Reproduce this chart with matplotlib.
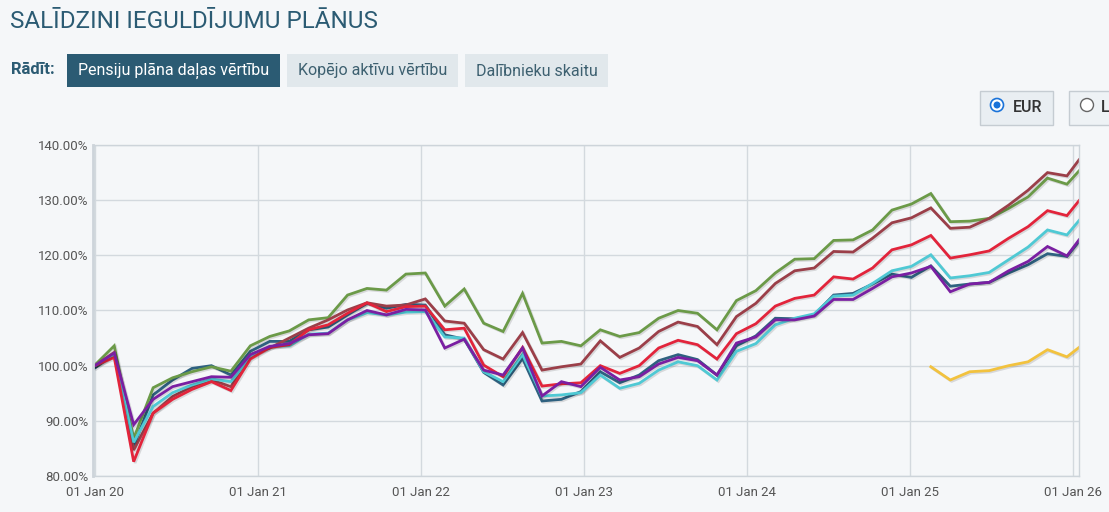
import numpy as np
import matplotlib
matplotlib.use("Agg")
import matplotlib.pyplot as plt
import matplotlib.dates as mdates
import matplotlib.patheffects as pe
from matplotlib.patches import Ellipse
import pandas as pd

# datumi (aptuveni ik pēc ~6 nedēļām) + pēdējais punkts
dates = pd.date_range('2020-01-01', '2025-12-18', periods=51).append(pd.DatetimeIndex(['2026-01-14']))

green = [100.1, 103.6, 86.8, 96.0, 97.8, 98.9, 99.8, 99.0, 103.6, 105.3, 106.3, 108.3, 108.7, 112.8, 114.0, 113.7,
         116.6, 116.8, 110.8, 113.9, 107.7, 106.2, 113.1, 104.1, 104.4, 103.6, 106.5, 105.3, 106.0, 108.6, 110.0, 109.5,
         106.5, 111.8, 113.6, 116.8, 119.3, 119.4, 122.7, 122.8, 124.6, 128.2, 129.3, 131.2, 126.1, 126.2, 126.7, 128.5,
         130.6, 134.0, 132.9, 135.3]
brown = [100.0, 102.4, 84.7, 91.4, 94.4, 96.2, 97.4, 96.2, 102.0, 103.2, 105.0, 106.8, 108.3, 110.1, 111.4, 110.8,
         111.0, 112.1, 108.1, 107.7, 102.9, 101.2, 106.0, 99.2, 99.8, 100.3, 104.5, 101.5, 103.2, 106.2, 107.9, 107.1,
         103.8, 108.9, 111.3, 114.9, 117.2, 117.7, 120.7, 120.6, 123.1, 125.9, 126.8, 128.6, 124.9, 125.1, 126.7, 129.1,
         131.8, 135.0, 134.4, 137.3]
red = [100.0, 101.5, 82.6, 91.4, 93.9, 95.7, 97.1, 95.5, 101.2, 103.3, 103.8, 106.5, 107.4, 109.5, 111.4, 109.8,
       110.7, 110.8, 106.5, 106.8, 100.1, 98.0, 103.3, 96.3, 96.7, 96.9, 100.0, 98.6, 100.0, 103.2, 104.6, 103.8,
       101.2, 105.8, 107.6, 110.8, 112.2, 112.8, 116.1, 115.7, 117.7, 121.0, 121.9, 123.6, 119.5, 120.1, 120.8, 123.1,
       125.2, 128.1, 127.2, 129.9]
cyan = [100.0, 102.0, 86.1, 92.6, 95.1, 96.5, 97.6, 97.1, 101.5, 103.5, 103.6, 105.7, 105.9, 108.3, 109.6, 109.2,
        109.7, 109.8, 105.2, 105.0, 98.9, 97.1, 102.0, 94.5, 94.7, 95.1, 98.3, 95.9, 96.8, 99.2, 100.7, 100.0,
        97.4, 102.6, 104.0, 107.4, 108.6, 109.4, 112.6, 112.8, 114.9, 117.2, 118.0, 120.1, 115.9, 116.3, 116.9, 119.2,
        121.5, 124.6, 123.7, 126.3]
teal = [99.6, 102.1, 85.3, 94.7, 97.4, 99.5, 100.0, 98.3, 102.6, 104.4, 104.4, 106.5, 107.0, 109.2, 111.3, 110.4,
        111.1, 111.0, 105.6, 104.8, 98.8, 96.5, 101.3, 93.6, 93.9, 95.3, 98.9, 96.9, 98.3, 100.9, 102.0, 101.1,
        98.3, 103.6, 105.4, 108.6, 108.5, 109.2, 112.8, 113.1, 114.8, 116.6, 116.0, 118.1, 114.4, 114.8, 115.1, 116.8,
        118.3, 120.3, 119.8, 122.5]
purple = [100.0, 102.3, 89.3, 93.9, 96.2, 97.1, 98.0, 97.9, 102.0, 103.5, 104.0, 105.6, 105.8, 108.3, 110.0, 109.2,
          110.2, 110.1, 103.2, 104.8, 99.2, 98.3, 103.2, 94.5, 97.1, 96.2, 99.7, 97.4, 98.0, 100.3, 101.5, 100.9,
          98.3, 104.1, 105.2, 108.3, 108.3, 109.0, 112.0, 112.0, 114.0, 116.1, 116.8, 118.0, 113.4, 114.8, 115.1, 117.2,
          118.9, 121.6, 119.9, 122.8]
yellow_start = 43
yellow = [99.8, 97.4, 98.9, 99.1, 100.0, 100.7, 102.9, 101.6, 103.3]

series = [
    (teal, '#2e6180'),
    (green, '#6b9a48'),
    (brown, '#9b3f49'),
    (cyan, '#4fc9d4'),
    (red, '#e2243b'),
    (purple, '#7a1fa2'),
]

bg = '#f5f7f9'
dark = '#2b5b73'
W, H = 1109, 512

fig = plt.figure(figsize=(11.09, 5.12), dpi=100, facecolor=bg)
plt.rcParams['font.family'] = ['Roboto', 'DejaVu Sans']

# virsraksts
fig.text(10 / W, 1 - 22 / H, 'SALĪDZINI IEGULDĪJUMU PLĀNUS', fontsize=17.5, color=dark,
         va='center', ha='left', family=['Liberation Sans Narrow', 'Roboto', 'DejaVu Sans'])
fig.text(11 / W, 1 - 70 / H, 'Rādīt:', fontsize=12, color=dark, fontweight='bold',
         va='center', ha='left')

# pogas
buttons = [('Pensiju plāna daļas vērtību', 67, 280, dark, 'white'),
           ('Kopējo aktīvu vērtību', 287, 458, '#e1e8ec', '#3d6070'),
           ('Dalībnieku skaitu', 465, 608, '#e1e8ec', '#3d6070')]
for label, x0, x1, fc, tc in buttons:
    fig.patches.append(plt.Rectangle((x0 / W, 1 - 87 / H), (x1 - x0) / W, 33 / H,
                                     transform=fig.transFigure, facecolor=fc, edgecolor='none'))
    fig.text((x0 + x1) / 2 / W, 1 - 71 / H, label, fontsize=11.5, color=tc, ha='center', va='center')

# valūtas izvēle
fig.patches.append(plt.Rectangle((980 / W, 1 - 125 / H), 73 / W, 34 / H, transform=fig.transFigure,
                                 facecolor='#e9eef2', edgecolor='#c5ccd2', linewidth=1))
fig.patches.append(plt.Rectangle((1069 / W, 1 - 125 / H), 60 / W, 34 / H, transform=fig.transFigure,
                                 facecolor='#eef2f5', edgecolor='#c5ccd2', linewidth=1))
fig.patches.append(Ellipse((997 / W, 1 - 105 / H), 13 / W, 13 / H, transform=fig.transFigure,
                           facecolor='white', edgecolor='#1a73d9', linewidth=1.2))
fig.patches.append(Ellipse((997 / W, 1 - 105 / H), 7 / W, 7 / H, transform=fig.transFigure,
                           facecolor='#1a73d9', edgecolor='none'))
fig.patches.append(Ellipse((1087 / W, 1 - 105 / H), 13 / W, 13 / H, transform=fig.transFigure,
                           facecolor='white', edgecolor='#666666', linewidth=1))
fig.text(1013 / W, 1 - 107 / H, 'EUR', fontsize=11.5, color='#333333', fontweight='medium', va='center')
fig.text(1101 / W, 1 - 107 / H, 'L', fontsize=11.5, color='#333333', fontweight='medium', va='center')

ax = fig.add_axes([93 / W, 36 / H, 986 / W, 331 / H])
ax.set_facecolor(bg)

shadow = [pe.SimpleLineShadow(offset=(1, -1), alpha=0.12, shadow_color='black'), pe.Normal()]
for vals, col in series:
    ax.plot(dates, vals, color=col, linewidth=2.0, path_effects=shadow, solid_joinstyle='miter')
ax.plot(dates[yellow_start:], yellow, color='#f2c23e', linewidth=2.0, path_effects=shadow)

ax.set_ylim(80, 140)
ax.set_yticks([80, 90, 100, 110, 120, 130, 140])
ax.yaxis.set_major_formatter(matplotlib.ticker.FormatStrFormatter('%.2f%%'))
ax.set_xlim(pd.Timestamp('2019-12-28'), dates[-1])
ax.xaxis.set_major_locator(mdates.YearLocator())
ax.xaxis.set_major_formatter(mdates.DateFormatter('%d %b %y'))

ax.grid(True, color='#d3d9de', linewidth=1)
ax.set_axisbelow(True)
for s in ax.spines.values():
    s.set_color('#cdd4da')
    s.set_linewidth(1)
ax.spines['left'].set_linewidth(2)
ax.tick_params(length=0, labelsize=9.5, labelcolor='#555555')
ax.tick_params(axis='y', pad=3)
ax.tick_params(axis='x', pad=7)

fig.savefig('out.png', dpi=100, facecolor=bg)
